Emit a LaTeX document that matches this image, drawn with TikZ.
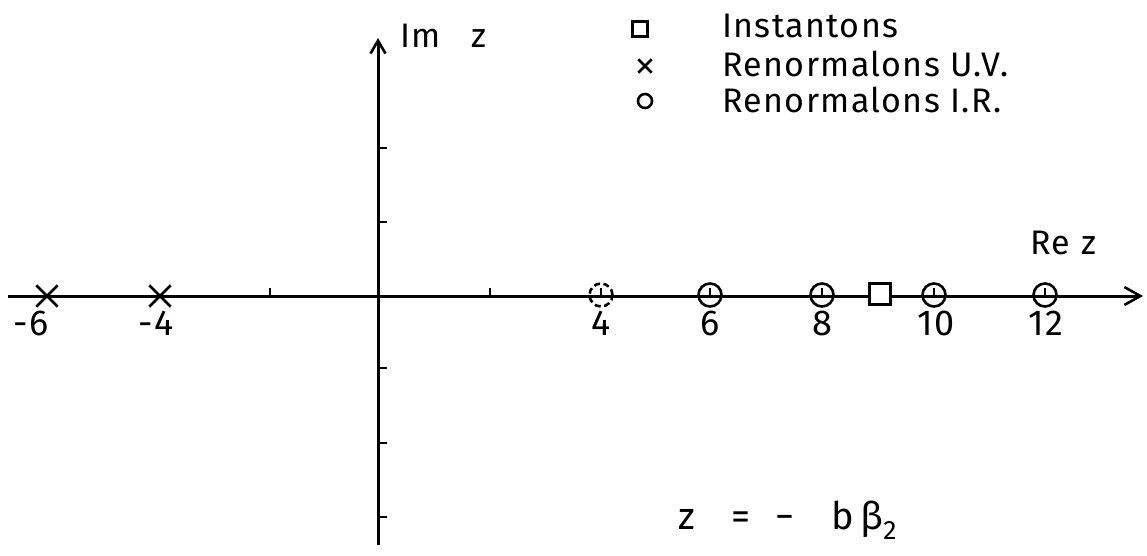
\documentclass[tikz,border=0pt]{standalone}
\usepackage{fontspec}
\setmainfont{Fira Sans}
\usetikzlibrary{arrows.meta}
\begin{document}
\begin{tikzpicture}[x=1pt,y=-1pt,
  ax/.style={line width=3pt},
  tk/.style={line width=2.6pt},
  circmark/.style={circle,draw,line width=2.6pt,minimum size=23pt,inner sep=0pt},
  dcircmark/.style={circmark,dash pattern=on 6pt off 3.5pt},
  sqmark/.style={draw,line width=2.4pt,minimum size=21pt,inner sep=0pt},
  crossmark/.style={draw=none,minimum size=21pt,inner sep=0pt},
  lbl/.style={font=\fontsize{36}{40}\selectfont\addfontfeatures{LetterSpace=6},inner sep=0pt},
  leg/.style={font=\fontsize{34}{38}\selectfont\addfontfeatures{LetterSpace=4},inner sep=0pt,anchor=west}
]
\useasboundingbox (0,0) rectangle (1147,556);
% axes
\coordinate (xs) at (8,296);
\coordinate (xe) at (1143,296);
\coordinate (ys) at (378,545);
\coordinate (ye) at (378,38);
\draw[ax,-{Straight Barb[length=16pt,width=18pt,line width=2.6pt]}] (xs) -- (xe);
\draw[ax,-{Straight Barb[length=13pt,width=15pt,line width=2.6pt]}] (ys) -- (ye);
% x ticks
\foreach \x in {270,490,601,710,822,934,1045} \draw[tk] (\x,296) -- (\x,288);
% y ticks
\foreach \y in {148,222,368,443,517} \draw[tk] (378,\y) -- (387,\y);
% markers
\node[dcircmark] (c4) at (601,295) {};
\node[circmark] (c6) at (710,295) {};
\node[circmark] (c8) at (822,295) {};
\node[circmark] (c10) at (934,295) {};
\node[circmark] (c12) at (1045,295) {};
\node[sqmark,fill=white] (sq) at (880,294) {};
\node[crossmark] (x6) at (47,296) {};
\node[crossmark] (x4) at (160,296) {};
\draw[tk] (x6.north west) -- (x6.south east) (x6.north east) -- (x6.south west);
\draw[tk] (x4.north west) -- (x4.south east) (x4.north east) -- (x4.south west);
% tick labels
\node[lbl] (l-6) at (31,323) {-6};
\node[lbl] (l-4) at (156,323) {-4};
\node[lbl] (l4) at (601,323) {4};
\node[lbl] (l6) at (710,323) {6};
\node[lbl] (l8) at (822,323) {8};
\node[lbl] (l10) at (936,323) {10};
\node[lbl] (l12) at (1046,323) {12};
% axis labels
\node[leg] (im) at (400,36) {Im\ \ \ z};
\node[leg] (re) at (1030,243) {Re\,\,z};
% legend
\node[sqmark,minimum size=15pt,line width=2.6pt] (lsq) at (640,29) {};
\node[crossmark,minimum size=13pt] (lx) at (645,66) {};
\draw[tk] (lx.north west) -- (lx.south east) (lx.north east) -- (lx.south west);
\node[circmark,minimum size=14pt] (lo) at (645,101) {};
\node[leg] (t1) at (722,26) {Instantons};
\node[leg] (t2) at (722,64) {Renormalons U.V.};
\node[leg] (t3) at (722,100) {Renormalons I.R.};
% formula
\node[leg,font=\fontsize{38}{42}\selectfont\addfontfeatures{LetterSpace=6}] (f) at (678,520) {z\ \ \ =\ \ {−}\ \ \ b\,β\textsubscript{2}};
\end{tikzpicture}
\end{document}
